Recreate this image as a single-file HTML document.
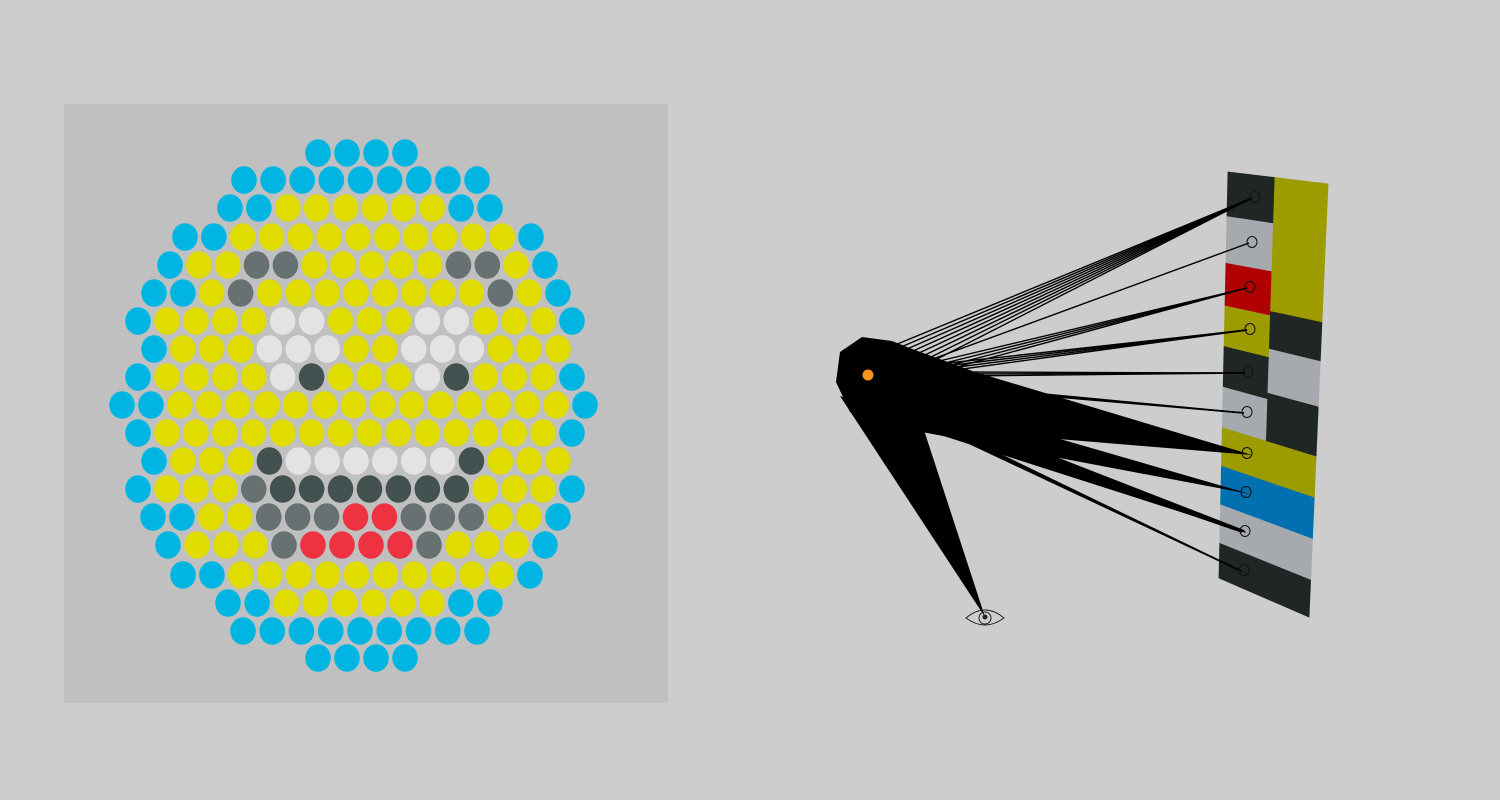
<!DOCTYPE html>
<html><head><meta charset="utf-8"><style>
html,body{margin:0;padding:0;background:#cdcdcd;width:1500px;height:800px;overflow:hidden}
svg{display:block}
</style></head><body>
<svg id="scene" width="1500" height="800" viewBox="0 0 1500 800" xmlns="http://www.w3.org/2000/svg">
<rect x="0" y="0" width="1500" height="800" fill="#cdcdcd"/>
<rect x="64" y="104" width="604" height="599" fill="#c0c0c0"/>
<g id="grid"></g>
<g id="panel"></g>
<g id="rays"></g>
</svg>
<script>
// hex grid rows (C cyan, Y yellow, G gray, D dark, W white, R red)
const rowColors = [
 "CCCC","CCCCCCCCC","CCYYYYYYCC","CCYYYYYYYYYYC","CYYGGYYYYYGGYC",
 "CCYGYYYYYYYYGYC","CYYYYWWYYYWWYYYC","CYYYWWWYYWWWYYY","CYYYYWDYYYWDYYYC",
 "CCYYYYYYYYYYYYYYC","CYYYYYYYYYYYYYYC","CYYYDWWWWWWDYYY","CYYYGDDDDDDDYYYC",
 "CCYYGGGRRGGGYYC","CYYYGRRRRGYYYC","CCYYYYYYYYYYC","CCYYYYYYCC","CCCCCCCCC","CCCC"
];
const rowY = [153,180,208,237,265,293,321,349,377,405,433,461,489,517,545,575,603,631,658];
const rowStart = [318,244,230,185,170,154,138,154,138,122,138,154,138,153,168,183,228,243,318];
const rowEnd = [405,477,490,531,545,558,572,558,572,585,572,558,572,558,545,530,490,477,405];
const palette = {C:"#00b5e2",Y:"#e0dc00",G:"#677171",D:"#435250",W:"#e3e3e3",R:"#ee3242"};

// strip panel cells
const cellU0 = [0,0,0,0,0,0, 0.47,0.47,0.47,0.47, 0,0,0,0];
const cellU1 = [0.47,0.47,0.47,0.47,0.47,0.47, 1,1,1,1, 1,1,1,1];
const cellV0 = [0,0.11,0.225,0.33,0.43,0.53, 0,0.32,0.41,0.515, 0.63,0.725,0.82,0.915];
const cellV1 = [0.11,0.225,0.33,0.43,0.53,0.635, 0.32,0.41,0.515,0.63, 0.725,0.82,0.915,1];
const cellColor = ["#1f2624","#a6aaae","#b00000","#9c9c00","#1f2624","#a6aaae","#9c9c00","#1f2624","#a6aaae","#1f2624","#9c9c00","#0070b0","#a6aaae","#1f2624"];

// ray targets on the strip
const targetX = [1255,1252,1250,1250,1248,1247,1247,1246,1245,1244];
const targetY = [197,242,287,329,372,412,453,492,531,570];
const targetRays = [8,1,4,4,3,3,0,0,6,6];
const originX = [895,930,935,930,950,950,940,940,930,930];
const originY = [345,360,362,365,372,385,400,400,425,425];

const NS="http://www.w3.org/2000/svg";
function mk(tag,attrs,parent){const e=document.createElementNS(NS,tag);for(const k in attrs)e.setAttribute(k,attrs[k]);parent.appendChild(e);return e;}

const grid=document.getElementById('grid');
rowColors.forEach((s,r)=>{
  const n=s.length, step=n>1?(rowEnd[r]-rowStart[r])/(n-1):0;
  for(let i=0;i<n;i++){
    const c=mk('ellipse',{cx:rowStart[r]+i*step,cy:rowY[r],rx:12.8,ry:13.8,fill:palette[s[i]]},grid);
    
    
  }
});

const P={tl:[1228,172],tr:[1328,184],br:[1309,617],bl:[1219,578]};
function bil(u,v){
  const x=(1-u)*(1-v)*P.tl[0]+u*(1-v)*P.tr[0]+u*v*P.br[0]+(1-u)*v*P.bl[0];
  const y=(1-u)*(1-v)*P.tl[1]+u*(1-v)*P.tr[1]+u*v*P.br[1]+(1-u)*v*P.bl[1];
  return x.toFixed(1)+','+y.toFixed(1);
}
const panel=document.getElementById('panel');
for(let i=0;i<cellColor.length;i++){
  const pts=[bil(cellU0[i],cellV0[i]),bil(cellU1[i],cellV0[i]),bil(cellU1[i],cellV1[i]),bil(cellU0[i],cellV1[i])].join(' ');
  const p=mk('polygon',{points:pts,fill:cellColor[i],stroke:cellColor[i],'stroke-width':0.8},panel);
  
  
}

const rays=document.getElementById('rays');
const shapes=[
 "836,382 840,352 862,337 892,341 960,368 945,420 905,432 850,412",
 "840,396 922,424 985,617",
 "915,350 975,372 1252,455 925,428",
 "918,398 960,410 1250,494 922,432",
 "915,402 925,430 1246,533 1244,530"
];
shapes.forEach(s=>{
  const p=mk('polygon',{points:s,fill:"#000"},rays);
  
  
});
for(let t=0;t<targetX.length;t++){
  for(let k=0;k<targetRays[t];k++){
    const l=mk('line',{x1:originX[t]+k*6,y1:originY[t]+k*2,x2:targetX[t]-3,y2:targetY[t]+1,stroke:"#000","stroke-width":1.4},rays);
    
    
  }
  const c=mk('ellipse',{cx:targetX[t],cy:targetY[t],rx:5,ry:5.5,fill:"none",stroke:"#111","stroke-width":1},rays);
  
  
}
const light=mk('circle',{cx:868,cy:375,r:5.5,fill:"#f7941d"},rays);


const eye=mk('g',{},rays);


mk('path',{d:"M966,618 Q985,602 1004,618 Q985,632 966,618 Z",fill:"none",stroke:"#222","stroke-width":1},eye);
mk('circle',{cx:985,cy:618,r:6,fill:"none",stroke:"#222","stroke-width":1},eye);
mk('circle',{cx:985,cy:617,r:2.5,fill:"#222"},eye);
</script>
</body></html>
